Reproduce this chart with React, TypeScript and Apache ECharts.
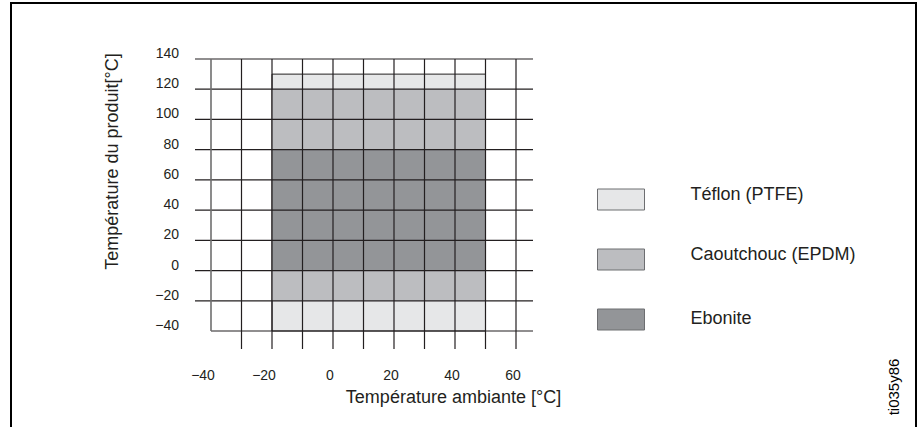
import React, { useEffect, useRef } from "react";
import * as echarts from "echarts";

const materials = ["Téflon (PTFE)", "Caoutchouc (EPDM)", "Ebonite"];
const ambientMin = [-20, -20, -20];
const ambientMax = [50, 50, 50];
const productMin = [-40, -20, 0];
const productMax = [130, 120, 80];
const fills = ["#e6e7e8", "#bcbdc0", "#939598"];

const xGridValues = [-40, -30, -20, -10, 0, 10, 20, 30, 40, 50, 60];
const yGridValues = [-40, -20, 0, 20, 40, 60, 80, 100, 120, 140];
const xLabeled = [-40, -20, 0, 20, 40, 60];

const FONT = "'Liberation Sans', Arial, Helvetica, sans-serif";
const INK = "#231f20";

const fmt = (v: number) => (v < 0 ? "\u2212" + Math.abs(v) : String(v));

export default function App() {
  const ref = useRef<HTMLDivElement>(null);
  useEffect(() => {
    if (!ref.current) return;
    const chart = echarts.init(ref.current, undefined, { renderer: "svg" });

    const materialSeries = materials.map((name, i) => ({
      type: "custom",
      name,
      z: 2,
      itemStyle: { color: fills[i] },
      data: [[ambientMin[i], ambientMax[i], productMin[i], productMax[i]]],
      renderItem: (params: any, api: any) => {
        const p0 = api.coord([api.value(0), api.value(3)]);
        const p1 = api.coord([api.value(1), api.value(2)]);
        return {
          type: "rect",
          shape: { x: p0[0], y: p0[1], width: p1[0] - p0[0], height: p1[1] - p0[1] },
          style: i === 0 ? { fill: fills[i], stroke: INK, lineWidth: 1 } : { fill: fills[i] },
        };
      },
    }));

    const hLines = {
      type: "custom",
      name: "hgrid",
      z: 5,
      silent: true,
      data: yGridValues.map((v) => [v]),
      renderItem: (params: any, api: any) => {
        const v = api.value(0);
        const a = api.coord([-40, v]);
        const b = api.coord([60, v]);
        return {
          type: "line",
          shape: { x1: v === -40 ? a[0] : a[0] - 16, y1: a[1], x2: b[0] + 17, y2: b[1] },
          style: { stroke: INK, lineWidth: 1.2 },
        };
      },
    };

    const vLines = {
      type: "custom",
      name: "vgrid",
      z: 5,
      silent: true,
      data: xGridValues.map((v) => [v]),
      renderItem: (params: any, api: any) => {
        const v = api.value(0);
        const a = api.coord([v, 140]);
        const b = api.coord([v, -40]);
        return {
          type: "line",
          shape: { x1: a[0], y1: a[1], x2: b[0], y2: v === -40 ? b[1] : b[1] + 18 },
          style: v === -40 ? { stroke: "#6f6f6f", lineWidth: 1.6 } : { stroke: INK, lineWidth: 1.2 },
        };
      },
    };

    chart.setOption({
      animation: false,
      grid: { left: 211, right: 406, top: 59, bottom: 96 },
      xAxis: {
        type: "value",
        min: -40,
        max: 60,
        interval: 10,
        axisLine: { show: false },
        axisTick: { show: false },
        splitLine: { show: false },
        axisLabel: {
          margin: 37,
          fontSize: 14,
          fontFamily: FONT,
          color: INK,
          padding: [0, 6, 0, 0],
          formatter: (v: number) =>
            xLabeled.indexOf(v) >= 0 ? (v < 0 ? "{n|" + fmt(v) + "}" : fmt(v)) : "",
          rich: { n: { fontSize: 14, fontFamily: FONT, color: INK, padding: [0, 10, 0, 0] } },
        },
        name: "Température ambiante [°C]",
        nameLocation: "middle",
        nameGap: 57,
        nameTextStyle: { fontSize: 18, fontFamily: FONT, color: INK, padding: [0, 0, 0, 180] },
      },
      yAxis: {
        type: "value",
        min: -40,
        max: 140,
        interval: 20,
        axisLine: { show: false },
        axisTick: { show: false },
        splitLine: { show: false },
        axisLabel: {
          margin: 32,
          fontSize: 14,
          fontFamily: FONT,
          color: INK,
          verticalAlign: "bottom",
          lineHeight: 12,
          formatter: (v: number) => fmt(v),
        },
        name: "Température du produit[°C]",
        nameLocation: "middle",
        nameGap: 90,
        nameTextStyle: { fontSize: 18, fontFamily: FONT, color: INK, padding: [0, 0, 0, 67] },
      },
      legend: {
        data: materials,
        orient: "vertical",
        left: 597,
        top: 184.5,
        padding: 0,
        icon: "rect",
        itemWidth: 47,
        itemHeight: 21,
        itemGap: 30,
        selectedMode: false,
        itemStyle: { borderColor: "#6d6e71", borderWidth: 1 },
        formatter: (name: string) => (name === "Ebonite" ? "{e|" + name + "}" : "{t|" + name + "}"),
        textStyle: {
          fontSize: 18,
          fontFamily: FONT,
          color: INK,
          rich: {
            t: { fontSize: 18, fontFamily: FONT, color: INK, lineHeight: 18, padding: [0, 0, 12, 41] },
            e: { fontSize: 18, fontFamily: FONT, color: INK, lineHeight: 18, padding: [4, 0, 8, 41] },
          },
        },
      },
      graphic: [
        {
          type: "polyline",
          silent: true,
          shape: { points: [[11, 440], [11, 3], [916, 3], [916, 440]] },
          style: { stroke: "#000", lineWidth: 2, fill: null },
        },
        {
          type: "text",
          x: 893,
          y: 387,
          rotation: Math.PI / 2,
          style: {
            text: "ti035y86",
            font: "15px " + FONT,
            fill: "#000",
            textAlign: "center",
            textVerticalAlign: "middle",
          },
        },
      ],
      series: [...materialSeries, hLines, vLines],
    });
    return () => chart.dispose();
  }, []);

  return (
    <div
      ref={ref}
      style={{ position: "fixed", left: 0, top: 0, width: 922, height: 427, background: "#fff" }}
    />
  );
}
